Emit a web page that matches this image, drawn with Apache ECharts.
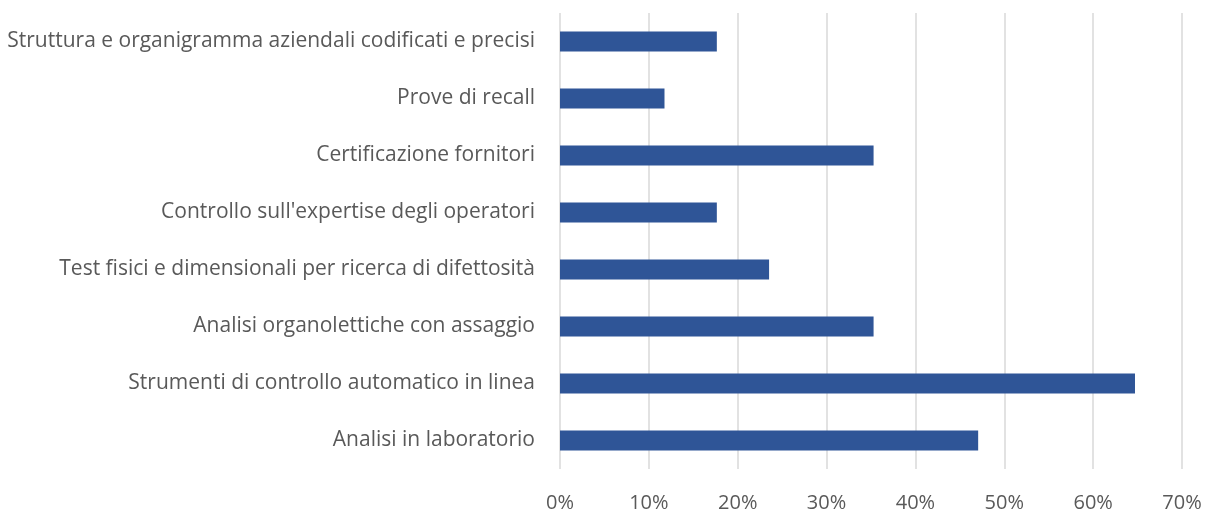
<!DOCTYPE html>
<html>
<head>
<meta charset="utf-8">
<script src="https://cdn.jsdelivr.net/npm/echarts@6/dist/echarts.min.js"></script>
<style>
  html, body { margin: 0; padding: 0; background: #fff; }
  #chart { width: 1206px; height: 513px; }
</style>
</head>
<body>
<div id="chart"></div>
<script>
// Categories listed bottom to top (category axis starts at the bottom)
const categories = [
  'Analisi in laboratorio',
  'Strumenti di controllo automatico in linea',
  'Analisi organolettiche con assaggio',
  'Test fisici e dimensionali per ricerca di difettosità',
  "Controllo sull'expertise degli operatori",
  'Certificazione fornitori',
  'Prove di recall',
  'Struttura e organigramma aziendali codificati e precisi'
];
// Share of respondents (fraction)
const shares = [0.4706, 0.6471, 0.3529, 0.2353, 0.1765, 0.3529, 0.1176, 0.1765];

const chart = echarts.init(document.getElementById('chart'));
chart.setOption({
  animation: false,
  grid: { left: 560, right: 24, top: 13, bottom: 43, containLabel: false },
  xAxis: {
    type: 'value',
    min: 0,
    max: 0.7,
    interval: 0.1,
    axisLine: { show: false },
    axisTick: { show: false },
    splitLine: { show: true, lineStyle: { color: '#d9d9d9', width: 1.5 } },
    axisLabel: {
      color: '#595959',
      fontFamily: 'Open Sans',
      fontSize: 20,
      margin: 24,
      formatter: v => Math.round(v * 100) + '%'
    }
  },
  yAxis: {
    type: 'category',
    data: categories,
    axisLine: { show: false },
    axisTick: { show: false },
    axisLabel: {
      color: '#595959',
      fontFamily: 'Open Sans',
      fontSize: 21,
      margin: 25
    }
  },
  series: [{
    type: 'bar',
    data: shares,
    barWidth: 20,
    itemStyle: { color: '#2f5597' }
  }]
});
</script>
</body>
</html>
